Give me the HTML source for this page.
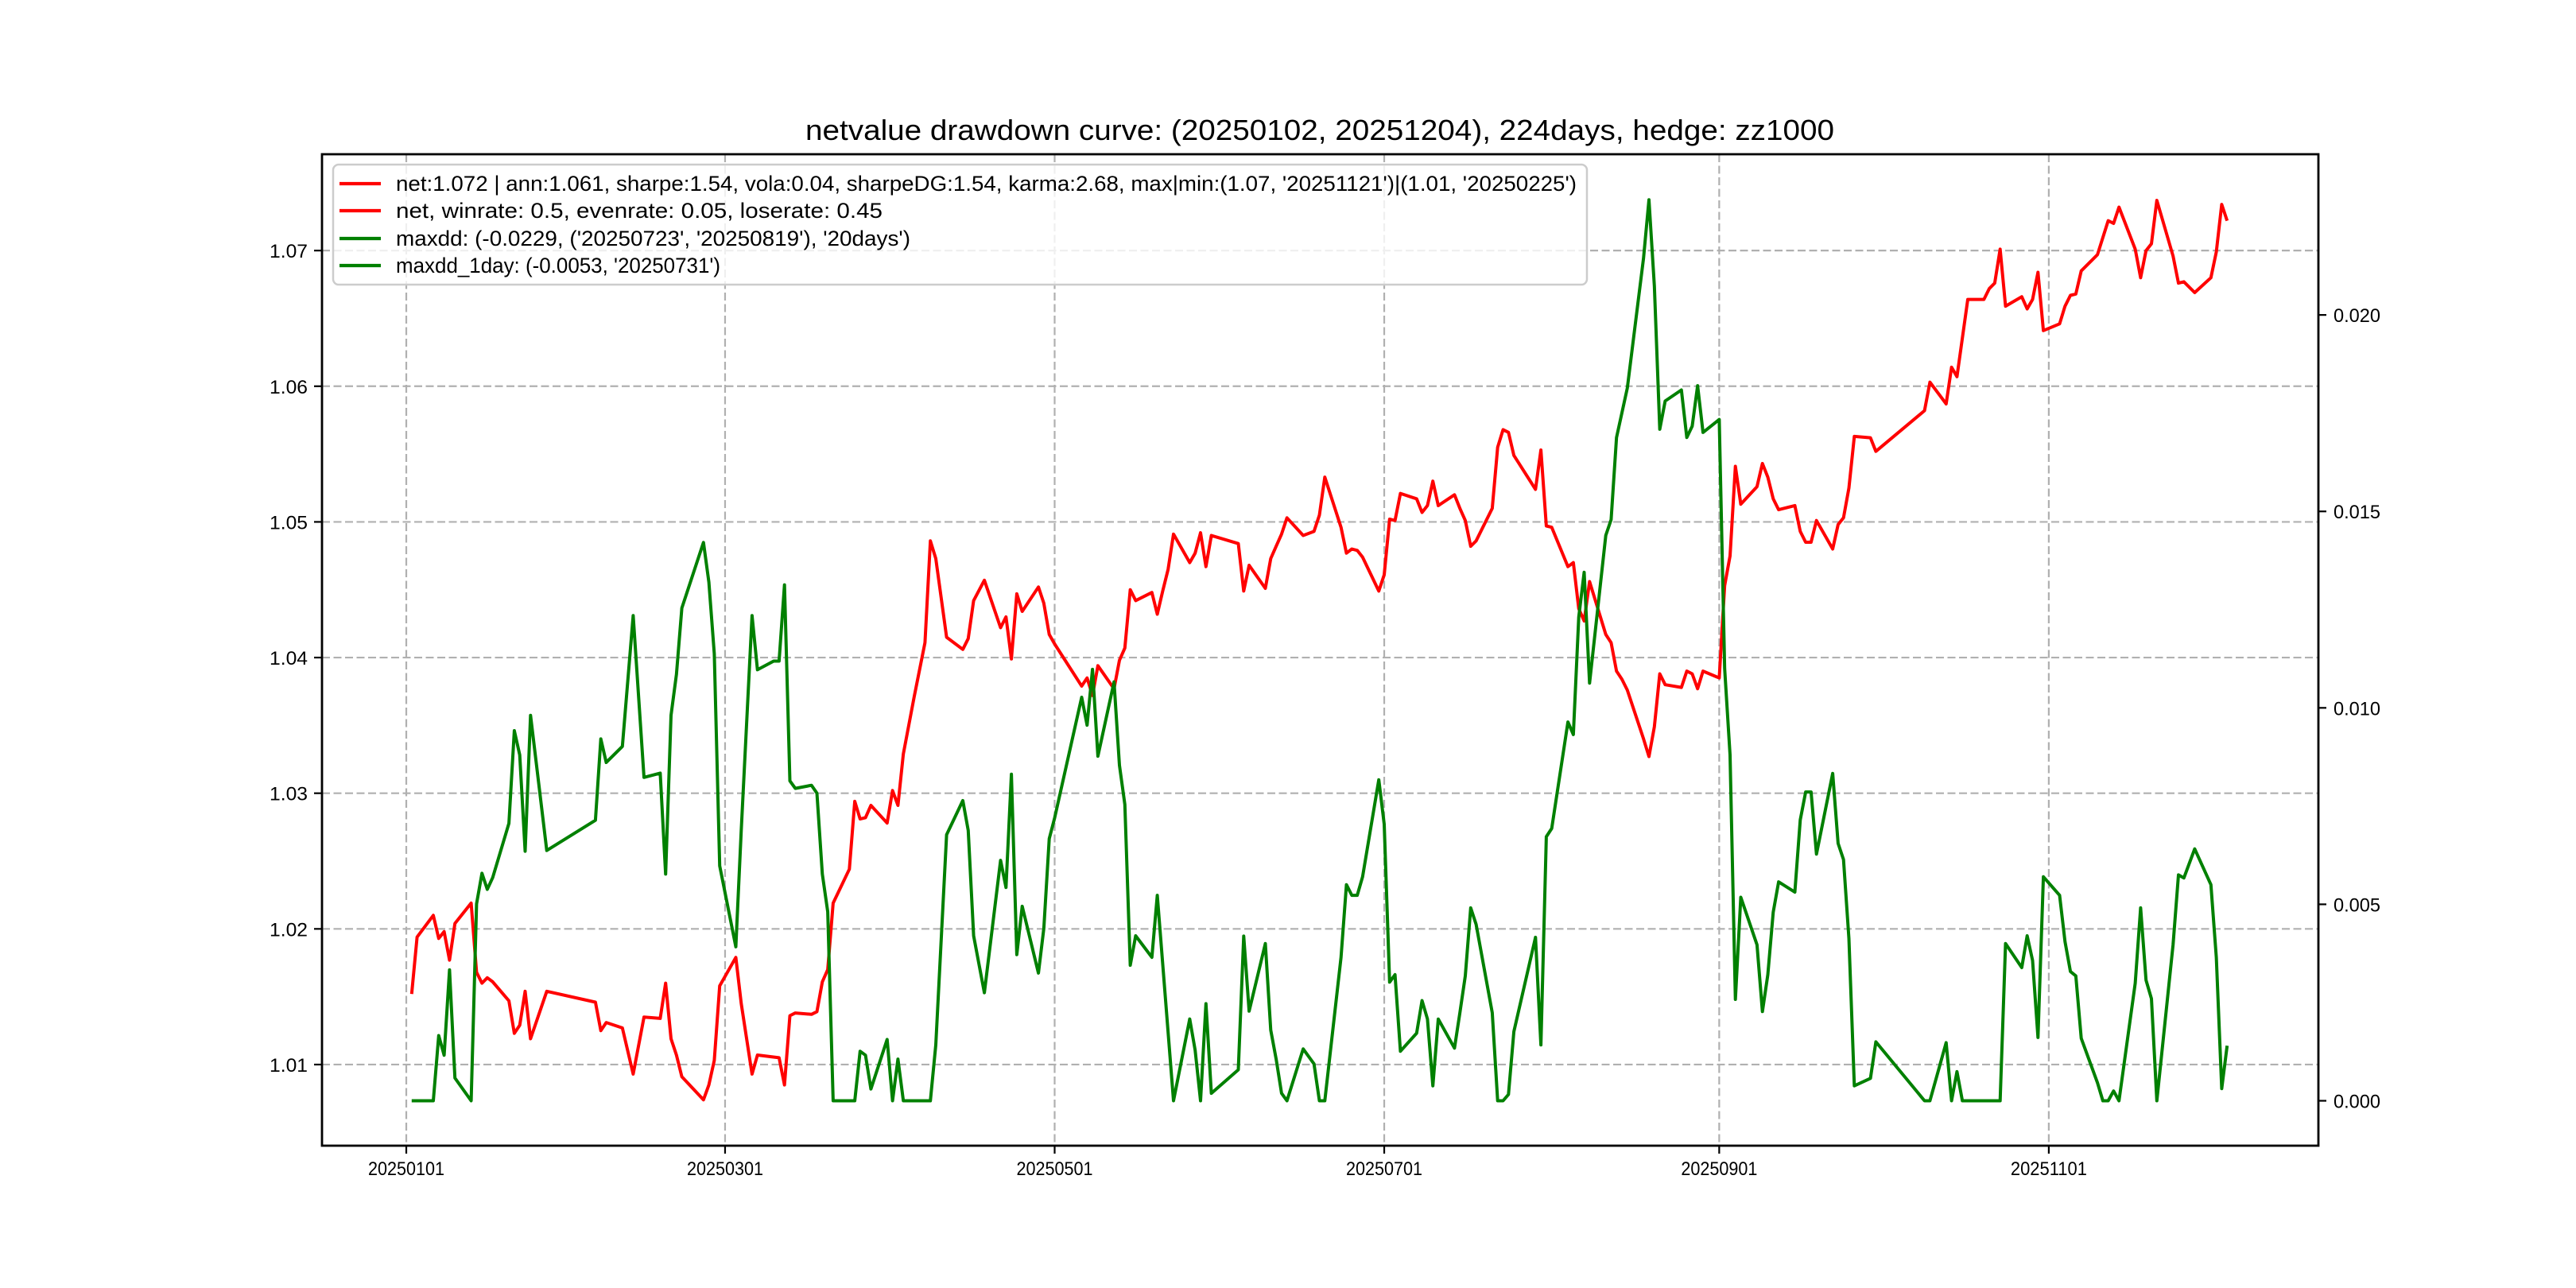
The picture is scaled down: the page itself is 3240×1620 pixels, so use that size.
<!DOCTYPE html>
<html><head><meta charset="utf-8"><style>
html,body{margin:0;padding:0;background:#fff;}
svg{display:block;}
text{font-family:"Liberation Sans","WenQuanYi Zen Hei",sans-serif;fill:#000;}
</style></head><body>
<svg id="chart" xmlns="http://www.w3.org/2000/svg" width="3240" height="1620" viewBox="0 0 3240 1620">
<rect x="0" y="0" width="3240" height="1620" fill="#fff"/>
<text x="1660" y="176" font-size="36" text-anchor="middle" textLength="1294" lengthAdjust="spacingAndGlyphs">netvalue drawdown curve: (20250102, 20251204), 224days, hedge: zz1000</text>
<g id="grid"></g>
<g id="plot"></g>
<g id="axes"></g>
<g id="legend">
  <rect x="419" y="207" width="1577" height="151" rx="7" fill="#fff" fill-opacity="0.8" stroke="#cccccc" stroke-width="2.5"/>
  <line x1="427" y1="231" x2="479" y2="231" stroke="#ff0000" stroke-width="4.2"/>
  <text x="498" y="240" font-size="27" textLength="1485" lengthAdjust="spacingAndGlyphs">net:1.072 | ann:1.061, sharpe:1.54, vola:0.04, sharpeDG:1.54, karma:2.68, max|min:(1.07, '20251121')|(1.01, '20250225')</text>
  <line x1="427" y1="265" x2="479" y2="265" stroke="#ff0000" stroke-width="4.2"/>
  <text x="498" y="274" font-size="27" textLength="612" lengthAdjust="spacingAndGlyphs">net, winrate: 0.5, evenrate: 0.05, loserate: 0.45</text>
  <line x1="427" y1="300" x2="479" y2="300" stroke="#008000" stroke-width="4.2"/>
  <text x="498" y="309" font-size="27" textLength="647" lengthAdjust="spacingAndGlyphs">maxdd: (-0.0229, ('20250723', '20250819'), '20days')</text>
  <line x1="427" y1="334" x2="479" y2="334" stroke="#008000" stroke-width="4.2"/>
  <text x="498" y="343" font-size="27" textLength="408" lengthAdjust="spacingAndGlyphs">maxdd_1day: (-0.0053, '20250731')</text>
</g>
</svg>
<script>
// day offsets from 2025-01-01
const netDay=[1,2,5,6,7,8,9,12,13,14,15,16,19,20,21,22,23,26,35,36,37,40,42,44,47,48,49,50,51,55,56,57,58,61,62,64,65,69,70,71,72,75,76,77,78,79,82,83,84,85,86,89,90,91,92,94,96,97,98,100,103,104,105,107,110,111,112,113,114,117,118,119,120,125,126,127,128,131,132,133,134,135,138,139,140,141,142,145,146,147,148,149,154,155,156,159,160,161,162,163,166,168,169,170,173,174,175,176,177,180,181,182,183,184,187,188,189,190,191,194,195,196,197,198,201,202,203,204,205,209,210,211,212,215,216,217,218,219,222,223,224,225,226,229,230,231,232,233,236,237,238,239,240,243,244,245,246,247,250,251,252,253,254,257,258,259,260,261,264,265,266,267,268,271,272,281,282,285,286,287,289,292,293,294,295,296,299,300,301,302,303,306,307,308,309,310,313,315,316,317,320,321,322,323,324,327,328,329,331,334,335,336,337];
const netVal=[1.0152,1.0194,1.0210,1.0193,1.0198,1.0177,1.0204,1.0219,1.0168,1.0160,1.0164,1.0161,1.0147,1.0123,1.0129,1.0154,1.0119,1.0154,1.0146,1.0125,1.0131,1.0127,1.0093,1.0135,1.0134,1.0160,1.0119,1.0107,1.0091,1.0074,1.0085,1.0103,1.0158,1.0179,1.0145,1.0093,1.0107,1.0105,1.0085,1.0136,1.0138,1.0137,1.0139,1.0161,1.0170,1.0219,1.0244,1.0294,1.0281,1.0282,1.0291,1.0278,1.0302,1.0291,1.0329,1.0371,1.0411,1.0486,1.0473,1.0415,1.0406,1.0414,1.0442,1.0457,1.0422,1.0430,1.0399,1.0447,1.0434,1.0452,1.0440,1.0417,1.0410,1.0379,1.0385,1.0372,1.0394,1.0377,1.0398,1.0407,1.0450,1.0442,1.0448,1.0432,1.0449,1.0465,1.0491,1.0470,1.0477,1.0492,1.0467,1.0490,1.0484,1.0449,1.0468,1.0451,1.0473,1.0482,1.0491,1.0503,1.0490,1.0493,1.0505,1.0533,1.0496,1.0477,1.0480,1.0479,1.0474,1.0449,1.0461,1.0502,1.0501,1.0521,1.0517,1.0507,1.0512,1.0530,1.0512,1.0520,1.0510,1.0501,1.0482,1.0486,1.0510,1.0555,1.0568,1.0566,1.0549,1.0524,1.0553,1.0497,1.0496,1.0467,1.0470,1.0436,1.0427,1.0456,1.0417,1.0411,1.0390,1.0384,1.0376,1.0340,1.0327,1.0349,1.0388,1.0380,1.0378,1.0390,1.0388,1.0377,1.0390,1.0385,1.0453,1.0475,1.0541,1.0513,1.0526,1.0543,1.0533,1.0517,1.0509,1.0512,1.0493,1.0485,1.0485,1.0501,1.0480,1.0498,1.0503,1.0525,1.0563,1.0562,1.0552,1.0582,1.0603,1.0587,1.0614,1.0607,1.0664,1.0664,1.0672,1.0676,1.0701,1.0659,1.0666,1.0657,1.0664,1.0684,1.0641,1.0646,1.0659,1.0667,1.0668,1.0685,1.0697,1.0722,1.0720,1.0732,1.0701,1.0680,1.0700,1.0705,1.0737,1.0696,1.0676,1.0677,1.0669,1.0680,1.0699,1.0734,1.0722];
const ddDay=[1,5,6,7,8,9,12,13,14,15,16,19,20,21,22,23,26,35,36,37,40,42,44,47,48,49,50,51,55,56,57,58,61,62,64,65,68,69,70,71,72,75,76,77,78,79,83,84,85,86,89,90,91,92,97,98,100,103,104,105,107,110,111,112,113,114,117,118,119,120,125,126,127,128,131,132,133,134,135,138,139,142,145,146,147,148,149,154,155,156,159,160,161,162,163,166,168,169,170,173,174,175,176,177,180,181,182,183,184,187,188,189,190,191,194,195,196,197,198,201,202,203,204,205,209,210,211,212,215,216,217,218,219,222,223,224,225,226,229,230,231,232,233,236,237,238,239,240,243,244,245,246,247,250,251,252,253,254,257,258,259,260,261,264,265,266,267,268,271,272,281,282,285,286,287,288,295,296,299,300,301,302,303,306,307,308,309,310,313,314,315,316,317,320,321,322,323,324,327,328,329,331,334,335,336,337];
const ddVal=[0,0,0.00166,0.00116,0.00333,0.00058,0,0.00501,0.00579,0.00538,0.00568,0.00706,0.00942,0.00880,0.00635,0.00981,0.00637,0.00714,0.00921,0.00861,0.00902,0.01235,0.00823,0.00834,0.00577,0.00981,0.01085,0.01254,0.01421,0.01320,0.01138,0.00598,0.00392,0.00688,0.01235,0.01097,0.01119,0.01119,0.01313,0.00814,0.00795,0.00803,0.00783,0.00577,0.00481,0,0,0.00126,0.00116,0.0003,0.00156,0,0.00106,0,0,0.00142,0.00677,0.00764,0.00688,0.0042,0.00275,0.00612,0.00543,0.00831,0.00372,0.00495,0.00325,0.00439,0.00667,0.0072,0.01027,0.00956,0.01098,0.00877,0.01066,0.00854,0.00754,0.00345,0.0042,0.00365,0.00523,0,0.00208,0.00129,0,0.00247,0.00019,0.00079,0.00419,0.00228,0.004,0.0018,0.00106,0.00019,0,0.00132,0.00094,0,0,0.00365,0.0055,0.00523,0.00523,0.0057,0.00817,0.00704,0.00302,0.00321,0.00126,0.00172,0.00255,0.00208,0.00038,0.00208,0.00134,0.00224,0.00318,0.00491,0.00449,0.00224,0,0,0.00016,0.00176,0.00416,0.00142,0.00672,0.00693,0.00964,0.00932,0.01231,0.01345,0.01063,0.01439,0.01479,0.01688,0.01751,0.01814,0.02145,0.02293,0.02074,0.01709,0.01781,0.01809,0.01688,0.01717,0.0182,0.01701,0.01734,0.0110,0.0088,0.00258,0.00518,0.00397,0.00227,0.00321,0.0048,0.00557,0.00531,0.00715,0.00786,0.00786,0.00628,0.00833,0.00655,0.00614,0.00413,0.00038,0.00057,0.0015,0,0,0.00148,0,0.00074,0,0,0.004,0.00339,0.0042,0.00357,0.00161,0.0057,0.00523,0.00405,0.00329,0.00318,0.00159,0.00046,0,0,0.00025,0,0.00299,0.00491,0.00307,0.0026,0,0.00397,0.00575,0.00567,0.00641,0.0055,0.00365,0.00031,0.0014];
const xTickDays=[0,59,120,181,243,304];
const xTickLabels=["20250101","20250301","20250501","20250701","20250901","20251101"];
const yLeftTicks=[1.01,1.02,1.03,1.04,1.05,1.06,1.07];
const yRightTicks=[0,0.005,0.010,0.015,0.020];

const NS="http://www.w3.org/2000/svg";
const L=405,R=2916,T=194,B=1441;
const xMin=-15.6,xMax=353.9;
const yLMin=1.00402,yLMax=1.0771;
const yRMin=-0.001143,yRMax=0.02409;
function xs(d){return L+(d-xMin)/(xMax-xMin)*(R-L);}
function yl(v){return B-(v-yLMin)/(yLMax-yLMin)*(B-T);}
function yr(v){return B-(v-yRMin)/(yRMax-yRMin)*(B-T);}
function mk(tag,attrs,parent){const e=document.createElementNS(NS,tag);for(const k in attrs)e.setAttribute(k,attrs[k]);parent.appendChild(e);return e;}
const grid=document.getElementById('grid'),plot=document.getElementById('plot'),axes=document.getElementById('axes');
const gridStyle={stroke:"#b0b0b0","stroke-width":2.2,"stroke-dasharray":"10,4.5"};

xTickDays.forEach((d,i)=>{
  const x=xs(d);
  const g=mk('line',Object.assign({x1:x,x2:x,y1:T,y2:B},gridStyle),grid);
  
  
  const t=mk('line',{x1:x,x2:x,y1:B,y2:B+10,stroke:"#000","stroke-width":2.2},axes);
  
  
  const lb=mk('text',{x:x,y:B+37,"font-size":24,"text-anchor":"middle",textLength:96,lengthAdjust:"spacingAndGlyphs"},axes);
  lb.textContent=xTickLabels[i];
  
  
});
yLeftTicks.forEach(v=>{
  const y=yl(v);
  const g=mk('line',Object.assign({x1:L,x2:R,y1:y,y2:y},gridStyle),grid);
  
  
  const t=mk('line',{x1:L-10,x2:L,y1:y,y2:y,stroke:"#000","stroke-width":2.2},axes);
  
  
  const lb=mk('text',{x:L-18,y:y+9,"font-size":24,"text-anchor":"end",textLength:48,lengthAdjust:"spacingAndGlyphs"},axes);
  lb.textContent=v.toFixed(2);
  
  
});
yRightTicks.forEach(v=>{
  const y=yr(v);
  const t=mk('line',{x1:R,x2:R+10,y1:y,y2:y,stroke:"#000","stroke-width":2.2},axes);
  
  
  const lb=mk('text',{x:R+19,y:y+9,"font-size":24,"text-anchor":"start",textLength:59,lengthAdjust:"spacingAndGlyphs"},axes);
  lb.textContent=v.toFixed(3);
  
  
});
const frame=mk('rect',{x:L,y:T,width:R-L,height:B-T,fill:"none",stroke:"#000","stroke-width":2.8},axes);



const netPts=netDay.map((d,i)=>xs(d).toFixed(1)+","+yl(netVal[i]).toFixed(1)).join(" ");
const net=mk('polyline',{points:netPts,fill:"none",stroke:"#ff0000","stroke-width":4,"stroke-linejoin":"round"},plot);


const ddPts=ddDay.map((d,i)=>xs(d).toFixed(1)+","+yr(ddVal[i]).toFixed(1)).join(" ");
const dd=mk('polyline',{points:ddPts,fill:"none",stroke:"#008000","stroke-width":4,"stroke-linejoin":"round"},plot);


</script>
</body></html>
